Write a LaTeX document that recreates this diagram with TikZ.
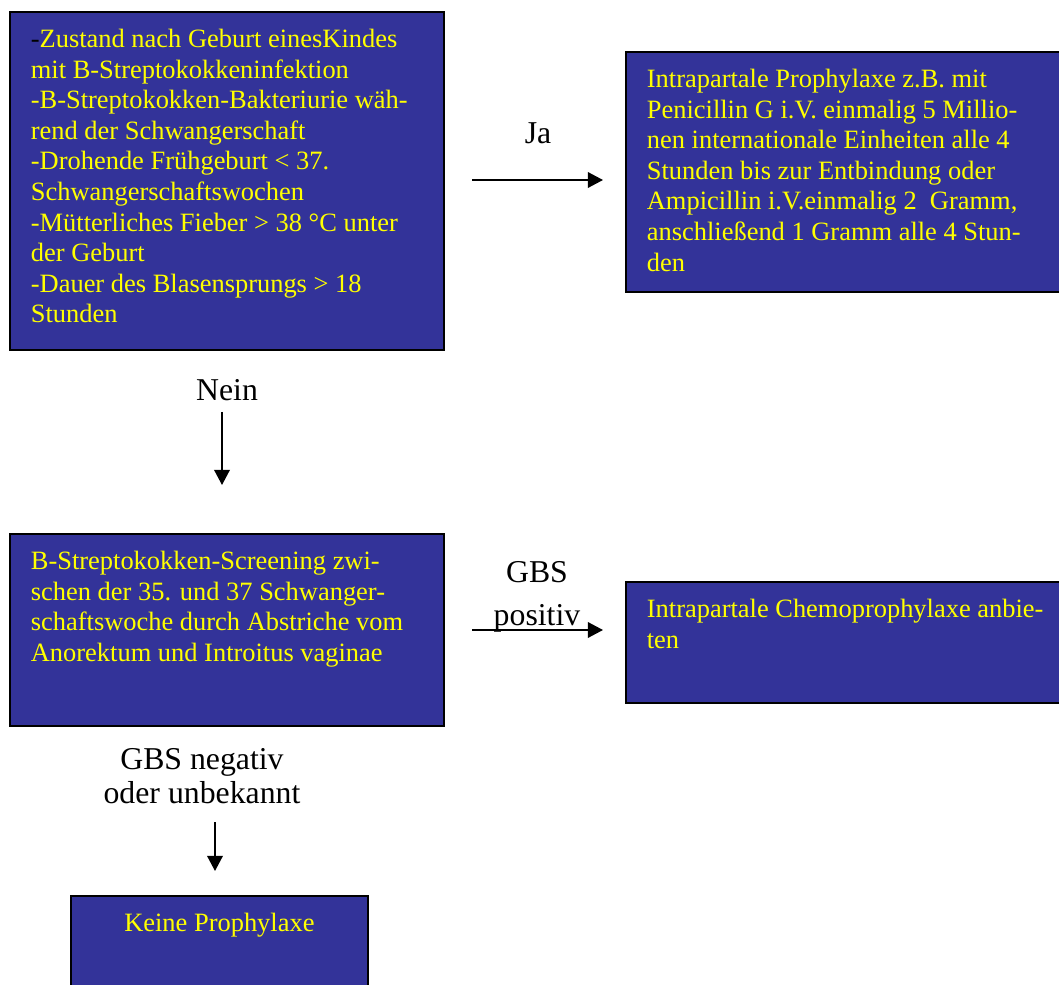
\documentclass[tikz,border=0pt]{standalone}
\usepackage{fontspec}
\setmainfont{Liberation Serif}
\usepackage{xcolor}
\usepackage{tikz}
\usetikzlibrary{calc,arrows.meta}
\definecolor{boxblue}{HTML}{333399}
\definecolor{yellowtext}{HTML}{FFFF00}
\newdimen\pxu \pxu=0.45pt
\newcommand{\bodyfont}{\fontsize{11.9}{13.77}\selectfont}
\newcommand{\labfont}{\fontsize{14.3}{15.5}\selectfont}
\tikzset{
  box/.style={draw=black, line width=0.8pt, fill=boxblue, text=yellowtext,
    font=\bodyfont, inner xsep=9.45pt, inner ysep=0pt, anchor=north west},
  lab/.style={text=black, font=\labfont, align=center, inner sep=0pt},
  arr/.style={draw=black, line width=0.8pt, -{Triangle[length=6.8pt,width=7pt]}}
}
\newcommand{\boxtext}[3]{%
  % #1 = text width, #2 = box height, #3 = lines
  \parbox[t][#2][t]{#1}{\raggedright\rule{0pt}{16pt}#3}%
}

\begin{document}
\begin{tikzpicture}[x=0.45pt, y=-0.45pt]
  \useasboundingbox (0,0) rectangle (1059,985);

  % boxes
  \node[box] (cond) at (9,11) {\boxtext{392\pxu}{338\pxu}{%
    {\color{black}-}Zustand nach Geburt einesKindes\\
    mit B-Streptokokkeninfektion\\
    -B-Streptokokken-Bakteriurie wäh-\\
    rend der Schwangerschaft\\
    -Drohende Frühgeburt < 37.\\
    Schwangerschaftswochen\\
    -Mütterliches Fieber > 38 °C unter\\
    der Geburt\\
    -Dauer des Blasensprungs > 18\\
    Stunden}};
  \node[box] (prophy) at (625,51) {\boxtext{398\pxu}{240\pxu}{%
    Intrapartale Prophylaxe z.B. mit\\
    Penicillin G i.V. einmalig 5 Millio-\\
    nen internationale Einheiten alle 4\\
    Stunden bis zur Entbindung oder\\
    Ampicillin i.V.einmalig 2~ Gramm,\\
    anschließend 1 Gramm alle 4 Stun-\\
    den}};
  \node[box] (screen) at (9,533) {\boxtext{392\pxu}{192\pxu}{%
    B-Streptokokken-Screening zwi-\\
    schen der 35. und 37 Schwanger-\\
    schaftswoche durch Abstriche vom\\
    Anorektum und Introitus vaginae}};
  \node[box] (chemo) at (625,581) {\boxtext{398\pxu}{121\pxu}{%
    Intrapartale Chemoprophylaxe anbie-\\
    ten}};
  \node[box] (keine) at (70,895) {\boxtext{255\pxu}{110\pxu}{%
    \centering Keine Prophylaxe}};

  % arrow ends
  \coordinate (ja-s) at (472,180);
  \coordinate (ja-e) at (603,180);
  \coordinate (nein-s) at (222,412);
  \coordinate (nein-e) at (222,485);
  \coordinate (pos-s) at (472,630);
  \coordinate (pos-e) at (603,630);
  \coordinate (neg-s) at (215,822);
  \coordinate (neg-e) at (215,871);

  \draw[arr] (ja-s) -- (ja-e);
  \draw[arr] (nein-s) -- (nein-e);
  \draw[arr] (pos-s) -- (pos-e);
  \draw[arr] (neg-s) -- (neg-e);

  % labels
  \node[lab] (ja) at (538,133) {Ja};
  \node[lab] (nein) at (227,390) {Nein};
  \node[lab] (pos) at (537,597) {GBS\\[4pt]positiv};
  \node[lab] (neg) at (202,776) {GBS negativ\\oder unbekannt};
\end{tikzpicture}
\end{document}
